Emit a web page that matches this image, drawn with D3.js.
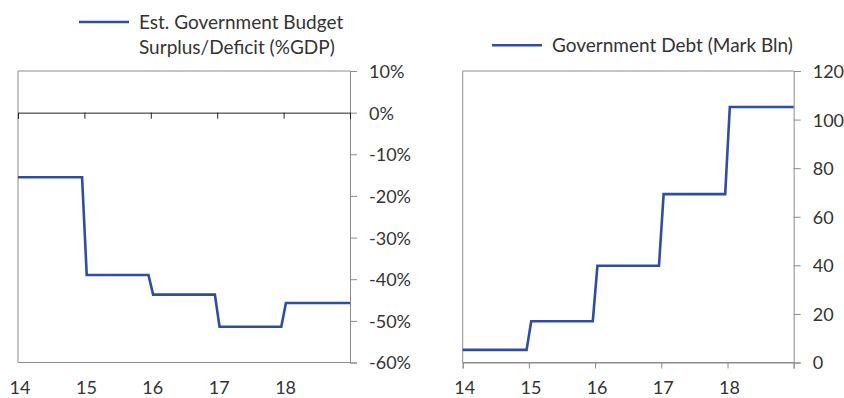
<!DOCTYPE html>
<html><head><meta charset="utf-8">
<script src="https://cdn.jsdelivr.net/npm/d3@7"></script>
<style>
body{margin:0;background:#fff;}
text{font-family:"Lato",sans-serif;fill:#333;}
</style></head>
<body><svg id="c" width="844" height="398"></svg>
<script>
const years = [14, 15, 16, 17, 18];
const budgetValues = [-15.5, -39, -43.7, -51.4, -45.7];   // % GDP
const debtValues = [5.2, 17.0, 39.8, 69.3, 105.2];         // Mark Bln
const budgetTicks = [10, 0, -10, -20, -30, -40, -50, -60];
const debtTicks = [0, 20, 40, 60, 80, 100, 120];
const budgetLegend = ["Est. Government Budget", "Surplus/Deficit (%GDP)"];
const debtLegend = ["Government Debt (Mark Bln)"];

const svg = d3.select("#c");
const blue = "#2f4ea2";
const grey = "#8c8c8c";
const FS = 18;
const LFS = 19;

function stepPoints(vals) {
  const pts = [];
  vals.forEach((v, i) => {
    const y0 = years[i];
    pts.push([i === 0 ? y0 : y0 + 0.035, v]);
    pts.push([i === vals.length - 1 ? y0 + 1 : y0 + 0.965, v]);
  });
  return pts;
}

function panel(opt) {
  const g = svg.append("g");
  const x = d3.scaleLinear().domain([14, 19]).range([opt.left, opt.right]);
  const y = d3.scaleLinear().domain(opt.domain).range([opt.bottom, opt.top]);
  g.append("line").attr("x1", opt.left).attr("x2", opt.left).attr("y1", opt.top).attr("y2", opt.bottom).attr("stroke", grey);
  g.append("line").attr("x1", opt.left).attr("x2", opt.right).attr("y1", opt.top).attr("y2", opt.top).attr("stroke", grey);
  g.append("line").attr("x1", opt.left).attr("x2", opt.right).attr("y1", opt.bottom).attr("y2", opt.bottom).attr("stroke", grey);
  const ya = d3.axisRight(y).tickValues(opt.ticks).tickSize(7).tickPadding(12).tickFormat(opt.fmt);
  const ag = g.append("g").attr("transform", `translate(${opt.right},0)`).call(ya);
  ag.select(".domain").attr("stroke", grey);
  ag.selectAll(".tick line").attr("stroke", grey);
  ag.selectAll(".tick text").attr("font-size", FS).attr("font-family", "Lato").attr("fill", "#333").attr("dy", "0.36em");
  const xa = d3.axisBottom(x).tickValues([14, 15, 16, 17, 18, 19]).tickSize(6).tickFormat("");
  const xg = g.append("g").attr("transform", `translate(0,${y(opt.xAt)})`).call(xa);
  xg.select(".domain").attr("stroke", opt.xColor);
  xg.selectAll(".tick line").attr("stroke", opt.xColor);
  g.selectAll(".xl").data(years).enter().append("text")
    .attr("x", d => x(d) + 2).attr("y", 394).attr("text-anchor", "middle").attr("font-size", FS).text(d => d);
  g.append("path").datum(stepPoints(opt.values))
    .attr("fill", "none").attr("stroke", blue).attr("stroke-width", 2.6).attr("stroke-linejoin", "miter")
    .attr("d", d3.line().x(d => x(d[0])).y(d => y(d[1])));
  g.append("line").attr("x1", opt.legX).attr("x2", opt.legX + 50).attr("y1", opt.legY).attr("y2", opt.legY)
    .attr("stroke", blue).attr("stroke-width", 2.6);
  opt.legend.forEach((t, i) => {
    g.append("text").attr("x", opt.legX + 60).attr("y", opt.legY + 6.5 + i * 25).attr("font-size", LFS).text(t);
  });
}

panel({left: 18, right: 350, top: 71, bottom: 362.5, domain: [-60, 10], ticks: budgetTicks,
  fmt: d => d + "%", xAt: 0, xColor: "#222", values: budgetValues,
  legX: 79, legY: 22, legend: budgetLegend});
panel({left: 462.7, right: 793.7, top: 71, bottom: 362.5, domain: [0, 120], ticks: debtTicks,
  fmt: d => d, xAt: 0, xColor: grey, values: debtValues,
  legX: 492, legY: 45.3, legend: debtLegend});
</script></body></html>
